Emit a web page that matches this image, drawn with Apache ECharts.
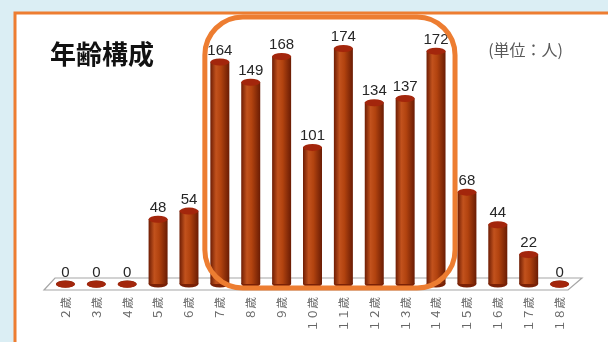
<!DOCTYPE html>
<html>
<head>
<meta charset="utf-8">
<script src="https://cdn.jsdelivr.net/npm/echarts@6/dist/echarts.min.js"></script>
<style>html,body{margin:0;padding:0;background:#dbeef4;}#c{width:608px;height:342px;}</style>
</head>
<body>
<div id="c"></div>
<script>
const categories = ['２歳','３歳','４歳','５歳','６歳','７歳','８歳','９歳','１０歳','１１歳','１２歳','１３歳','１４歳','１５歳','１６歳','１７歳','１８歳'];
const values = [0, 0, 0, 48, 54, 164, 149, 168, 101, 174, 134, 137, 172, 68, 44, 22, 0];
const highlightFrom = 5;  // 7歳
const highlightTo = 12;   // 14歳
const titleText = '年齢構成';
const unitText = '(単位：人)';

const chart = echarts.init(document.getElementById('c'), null, {renderer: 'canvas'});
const BW = 19, EH = 7;
const bodyGrad = new echarts.graphic.LinearGradient(0, 0, 1, 0, [
  {offset: 0, color: '#6e1d04'},
  {offset: 0.3, color: '#c2521d'},
  {offset: 0.55, color: '#b2430f'},
  {offset: 1, color: '#6a1c04'}
]);
chart.setOption({
  backgroundColor: '#dbeef4',
  animation: false,
  graphic: [{
    type: 'rect', z: -10, silent: true,
    shape: {x: 15, y: 13, width: 640, height: 360},
    style: {fill: '#ffffff', stroke: '#ed7d31', lineWidth: 3}
  }],
  title: [
    {text: titleText, left: 45, top: 36, textStyle: {fontFamily: 'Noto Sans CJK JP', fontSize: 26, fontWeight: 'bold', color: '#111'}},
    {text: unitText, right: 40, top: 37, textStyle: {fontFamily: 'Noto Sans CJK JP', fontSize: 16, fontWeight: 'normal', color: '#595959'}}
  ],
  grid: {left: 50, right: 33, top: 40, bottom: 58},
  xAxis: {
    type: 'category', data: categories,
    axisLine: {show: false}, axisTick: {show: false},
    axisLabel: {rotate: 90, margin: 13, color: '#666', fontSize: 11.5, fontFamily: 'Noto Sans CJK JP'}
  },
  yAxis: {type: 'value', min: 0, max: 180, show: false, splitLine: {show: false}},
  series: [
    {
      type: 'custom', z: 1, silent: true, clip: false,
      data: [[0, 0]],
      renderItem: function (params, api) {
        const a = api.coord([0, 0]);
        const b = api.coord([categories.length - 1, 0]);
        const w = api.size([1, 0])[0];
        const y = a[1];
        return {
          type: 'polygon',
          shape: {points: [
            [a[0] - w / 2 - 6, y + 6],
            [a[0] - w / 2 + 5, y - 6],
            [b[0] + w / 2 + 7, y - 6],
            [b[0] + w / 2 - 7, y + 6]
          ]},
          style: {fill: '#ffffff', stroke: '#a6a6a6', lineWidth: 1.2}
        };
      }
    },
    {
      type: 'pictorialBar', z: 2, silent: true,
      data: values,
      symbol: 'circle', symbolSize: [BW, EH], symbolPosition: 'start', symbolOffset: [0, '50%'],
      itemStyle: {color: '#7a2106'}
    },
    {
      type: 'bar', z: 3, silent: true,
      data: values, barWidth: BW, barGap: '-100%',
      itemStyle: {color: bodyGrad}
    },
    {
      type: 'pictorialBar', z: 4, silent: true,
      data: values,
      symbol: 'circle', symbolSize: [BW, EH], symbolPosition: 'end', symbolOffset: [0, '-50%'],
      itemStyle: {color: '#a3260c', borderColor: '#c8200a', borderWidth: 1},
      label: {show: true, position: 'top', distance: 0, color: '#262626', fontSize: 15, fontFamily: 'Liberation Sans'}
    },
    {
      type: 'custom', z: 10, silent: true, clip: false,
      data: [[0, 0]],
      renderItem: function (params, api) {
        const a = api.coord([highlightFrom, 0]);
        const b = api.coord([highlightTo, 0]);
        const t = api.coord([0, 180]);
        const x1 = a[0] - 15, x2 = b[0] + 19;
        const y1 = t[1] - 23, y2 = a[1] + 4;
        return {
          type: 'rect',
          shape: {x: x1, y: y1, width: x2 - x1, height: y2 - y1, r: 38},
          style: {fill: 'none', stroke: '#ed7d31', lineWidth: 5}
        };
      }
    }
  ]
});
</script>
</body>
</html>
